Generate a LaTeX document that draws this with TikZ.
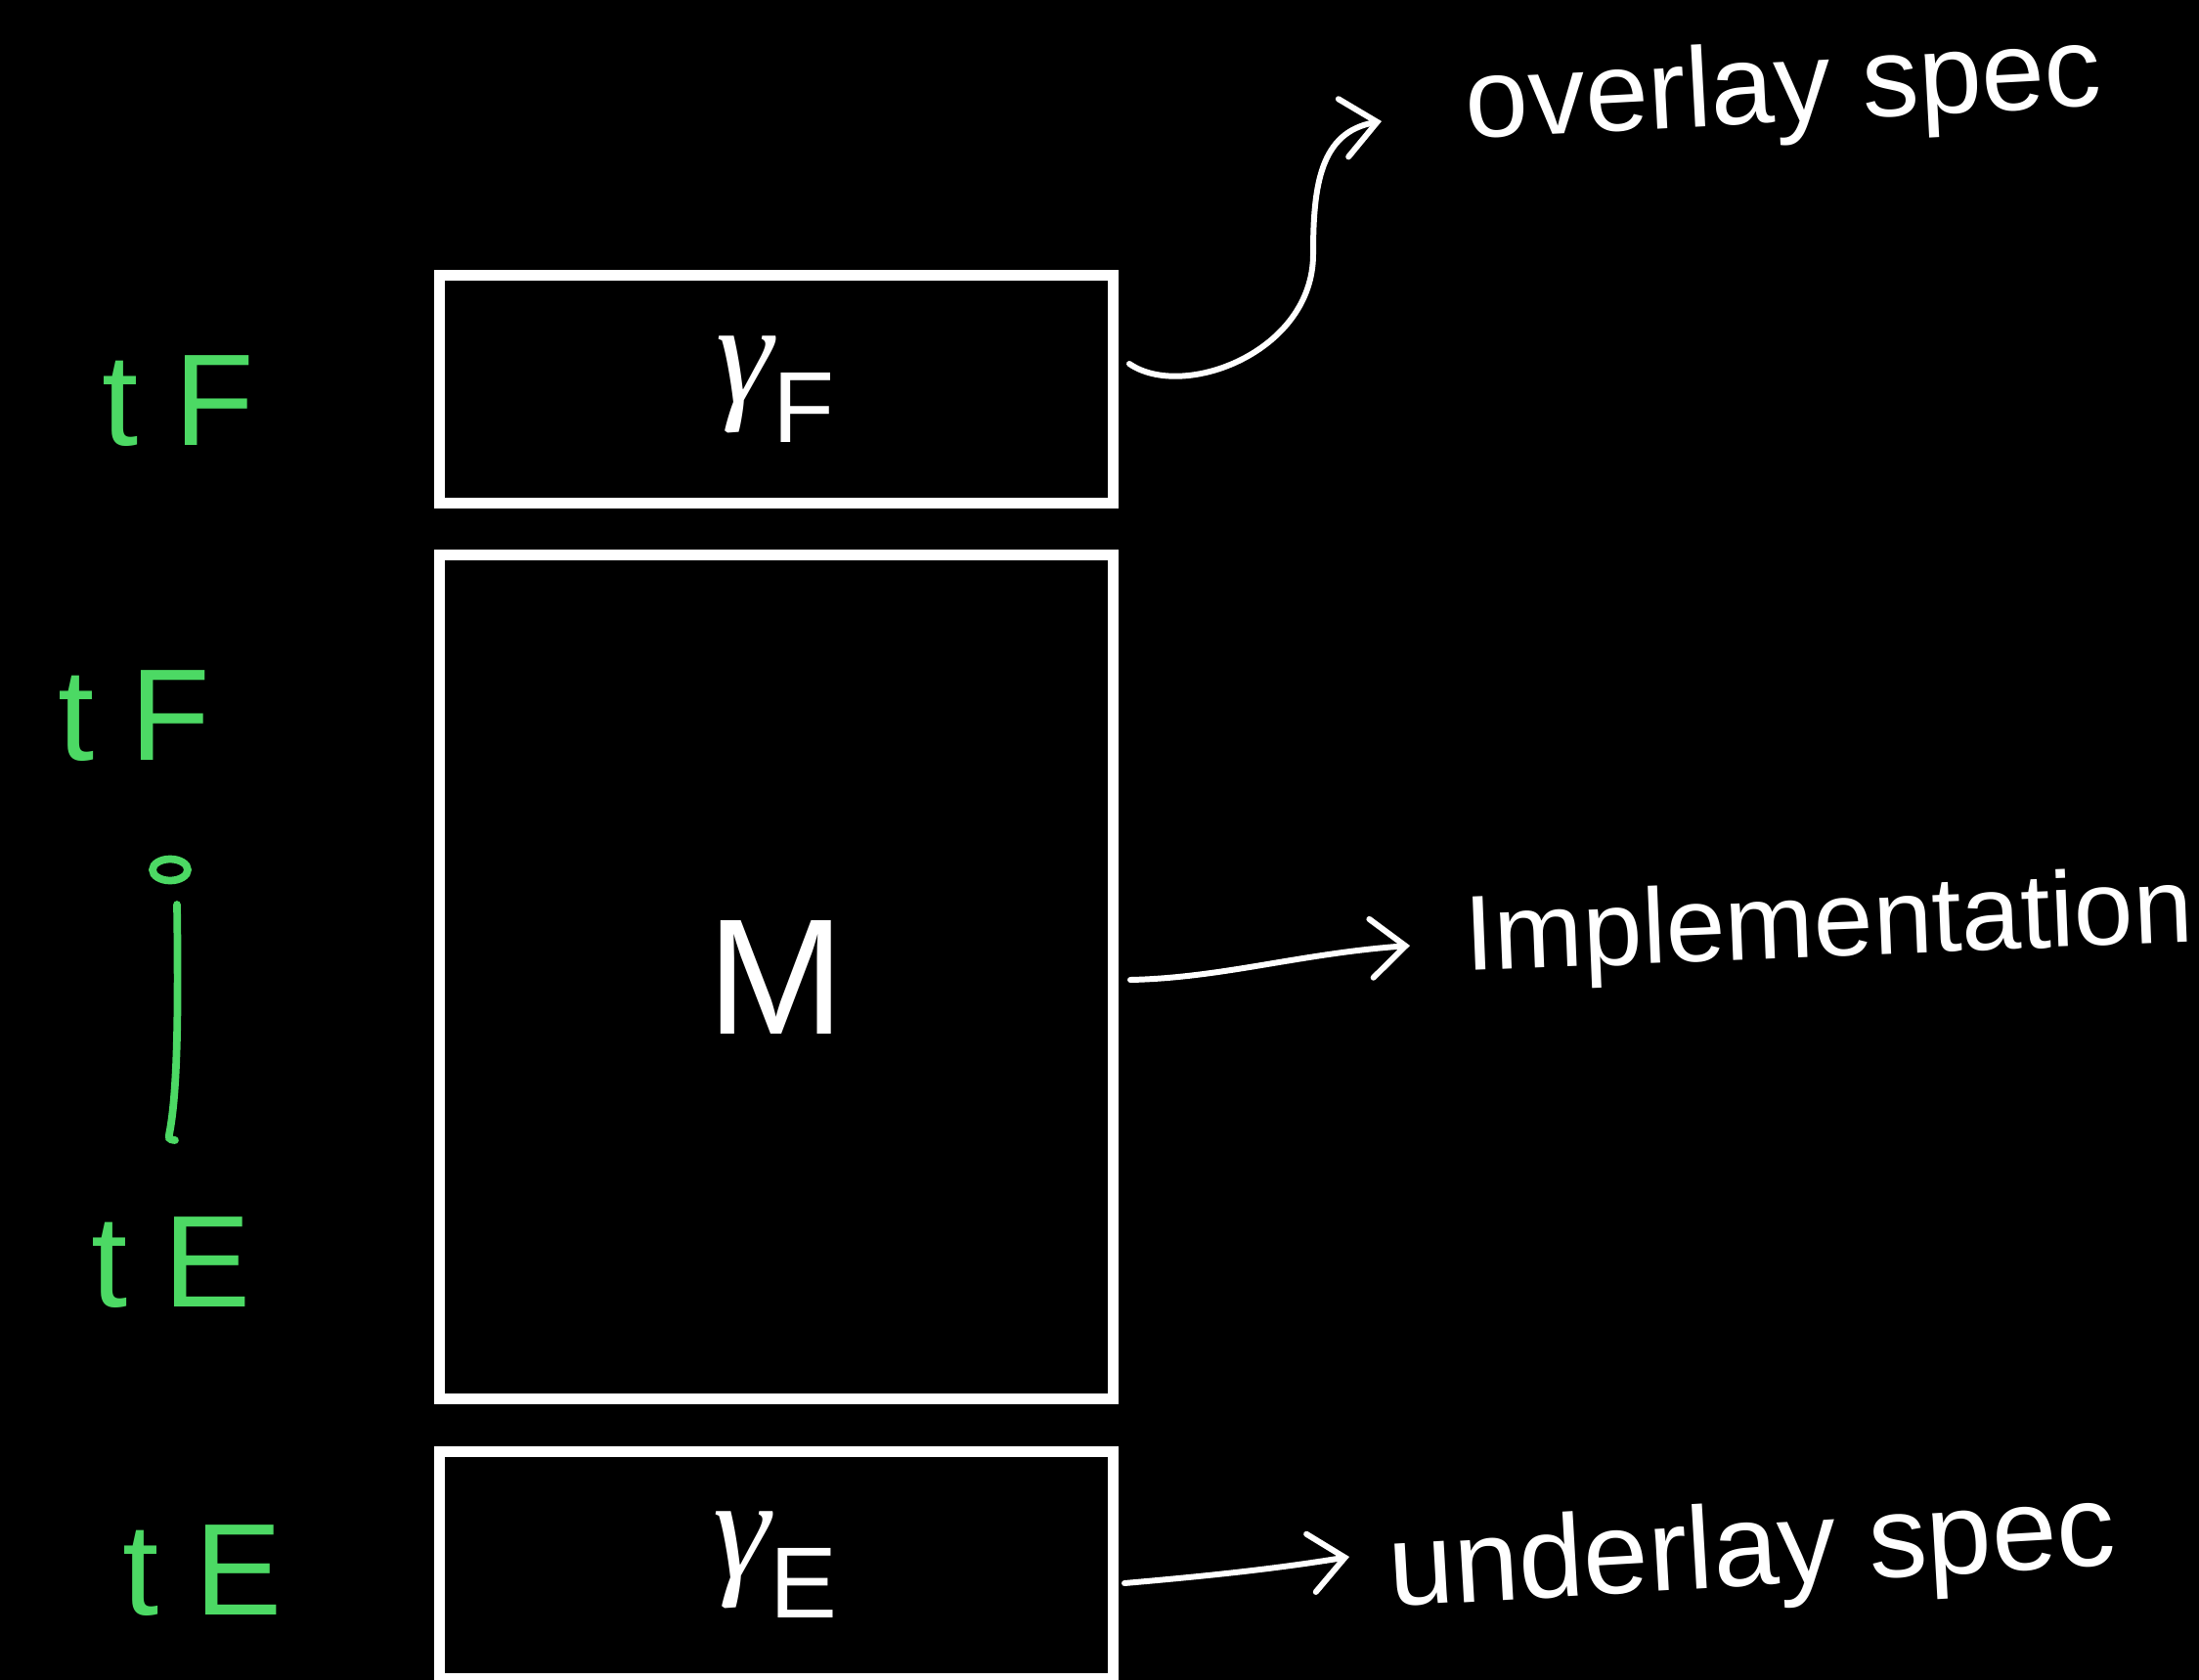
\documentclass[tikz,border=0pt]{standalone}
\usepackage{fontspec}
\setmainfont{Liberation Sans}
\newfontfamily\greekfont{Liberation Serif}
\usetikzlibrary{arrows.meta}
\definecolor{inkgreen}{RGB}{76,217,100}
\definecolor{boardblack}{RGB}{0,0,0}

\begin{document}
\begin{tikzpicture}[
  layer/.style={rectangle,draw=white,line width=0.11cm,inner sep=0pt,
    minimum width=6.89cm,text=white},
  tmark/.style={text=inkgreen,font=\fontsize{38}{44}\selectfont},
  note/.style={text=white,anchor=base west,inner sep=0pt,font=\fontsize{34}{40}\selectfont},
  link/.style={draw=white,line width=1.7pt,line cap=round,
    -{Straight Barb[length=3.5mm,width=6mm,line cap=round]}}
]
\fill[boardblack] (0,0) rectangle (22.49,-17.18);
\useasboundingbox (0,0) rectangle (22.49,-17.18);

\node[layer,minimum height=2.325cm,font=\fontsize{42}{50}\selectfont] (top) at (7.94,-3.98) {{\greekfont\itshape γ}\textsubscript{F}};
\node[layer,minimum height=8.635cm,font=\fontsize{48}{56}\selectfont] (mid) at (7.94,-9.99) {M};
\node[layer,minimum height=2.32cm,font=\fontsize{42}{50}\selectfont] (bot) at (7.94,-16.0) {{\greekfont\itshape γ}\textsubscript{E}};

\node[tmark] (tf-a) at (1.82,-4.10) {t F};
\node[tmark] (tf-b) at (1.37,-7.32) {t F};
\node[tmark] (te-a) at (1.75,-12.91) {t E};
\node[tmark] (te-b) at (2.07,-16.06) {t E};
\draw[inkgreen,line width=2.2pt] (1.74,-8.895) ellipse (0.18 and 0.11);
\draw[inkgreen,line width=2.2pt,line cap=round] (1.81,-9.25) .. controls (1.83,-10.6) and (1.80,-11.2) .. (1.74,-11.55) .. controls (1.72,-11.65) .. (1.79,-11.66);

\node[note,rotate=3,font=\fontsize{33}{40}\selectfont] (ovl) at (15.0,-1.42) {overlay spec};
\node[note,rotate=2.3,font=\fontsize{31}{37}\selectfont] (impl) at (14.99,-9.93) {Implementation};
\node[note,rotate=3.3] (undl) at (14.22,-16.43) {underlay spec};

\coordinate (ovl-end) at (14.13,-1.24);
\coordinate (impl-end) at (14.42,-9.67);
\coordinate (undl-end) at (13.80,-15.92);
\draw[link] ([shift={(0.11,0.26)}]top.east) .. controls (12.1,-4.1) and (13.43,-3.6) .. (13.43,-2.6)
  .. controls (13.43,-1.9) and (13.5,-1.35) .. (ovl-end);
\draw[link] ([shift={(0.12,-0.03)}]mid.east) .. controls (12.5,-10.0) and (13.3,-9.75) .. (impl-end);
\draw[link] ([shift={(0.06,-0.19)}]bot.east) .. controls (12.3,-16.12) and (13.0,-16.05) .. (undl-end);
\end{tikzpicture}
\end{document}
